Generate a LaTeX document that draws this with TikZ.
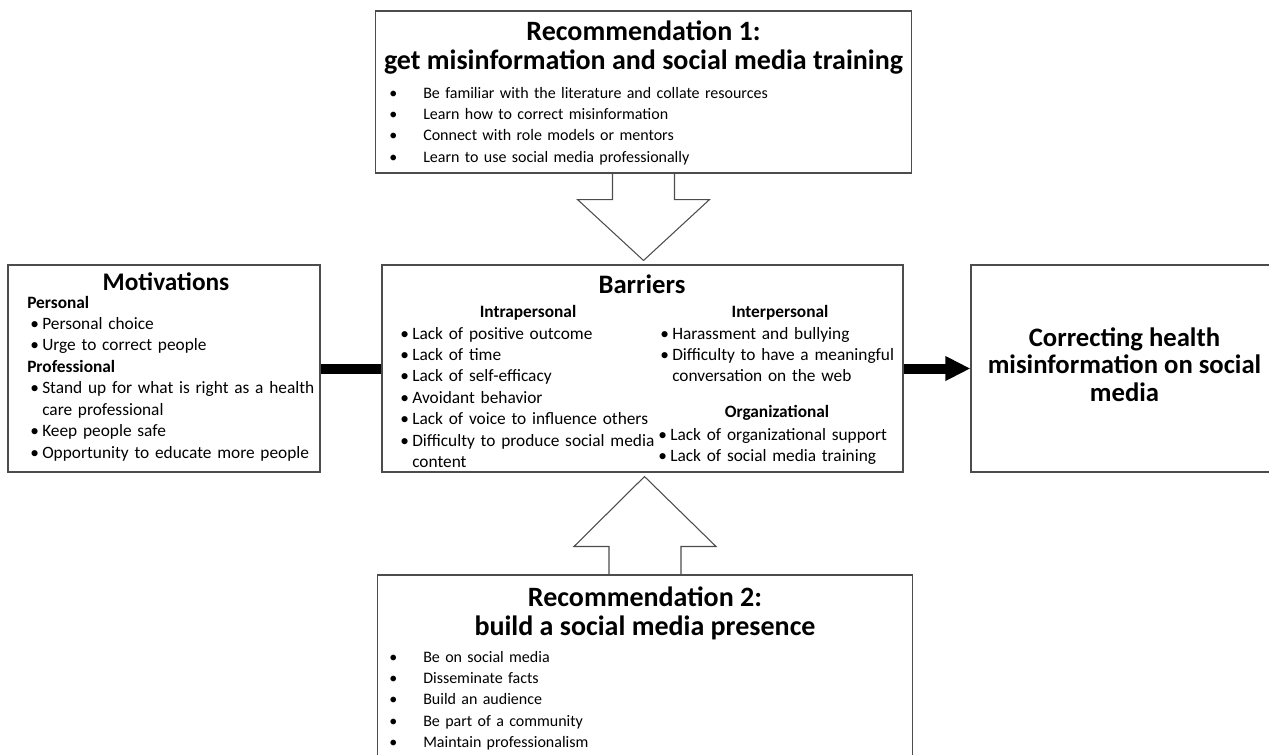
\documentclass[tikz,border=0pt]{standalone}
\usepackage{fontspec}
\setmainfont{Carlito}
\usetikzlibrary{arrows.meta,positioning,calc}
\newcommand{\bitem}[1]{\noindent\makebox[11.25pt][c]{\textbullet}#1\par}
\newcommand{\bcont}[1]{\noindent\hspace*{11.25pt}#1\par}
\newcommand{\ritem}[1]{\noindent\makebox[25.5pt][l]{\textbullet}#1\par}

\begin{document}
\begin{tikzpicture}[x=0.75pt,y=-0.75pt,
  box/.style={draw=black!70,line width=0.8pt,rectangle,minimum height=155.25pt},
  txt/.style={inner sep=0pt,anchor=base west,font=\fontsize{13}{16.1}\selectfont},
  head/.style={inner sep=0pt,anchor=base,font=\fontsize{13}{16.1}\selectfont\bfseries},
  rtitle/.style={inner sep=0pt,anchor=base,text width=450pt,align=flush center,font=\fontsize{21}{22.1}\selectfont\bfseries},
  rlist/.style={inner sep=0pt,anchor=base west,text width=360pt,font=\fontsize{12}{16}\selectfont},
  hollow/.style={draw=black!70,line width=0.8pt,line join=miter},
  boldline/.style={line width=7.5pt}]
\useasboundingbox (0,0) rectangle (1269,754);

\node[box,minimum width=401.6pt,minimum height=121.5pt] (rec1) at (643.5,92) {};
\node[box,minimum width=390.75pt] (barriers) at (642.5,368.5) {};
\node[box,minimum width=234pt] (motiv) at (164,368.5) {};
\node[box,minimum width=230.25pt] (goal) at (1124.5,368.5) {};
\node[box,minimum width=401.25pt,minimum height=168.75pt] (rec2) at (645,687.5) {};

\node[rtitle] (rec1title) at (643.5,40) {Recommendation 1:\\get misinformation and social media training};
\node[rlist] (rec1list) at (389,98) {\ritem{Be familiar with the literature and collate resources}\ritem{Learn how to correct misinformation}\ritem{Connect with role models or mentors}\ritem{Learn to use social media professionally}};

\node[head,font=\fontsize{19}{22}\selectfont\bfseries] (motivtitle) at (166,290) {Motivations};
\node[txt,text width=225pt] (motivlist) at (27,308) {\noindent\textbf{Personal}\par\bitem{Personal choice}\bitem{Urge to correct people}\noindent\textbf{Professional}\par\bitem{Stand up for what is right as a health}\bcont{care professional}\bitem{Keep people safe}\bitem{Opportunity to educate more people}};

\node[head,font=\fontsize{20}{24}\selectfont\bfseries] (barrierstitle) at (642,293) {Barriers};
\node[head] (intrahead) at (528,317) {Intrapersonal};
\node[head] (interhead) at (780,317) {Interpersonal};
\node[head] (orghead) at (777,417) {Organizational};
\node[txt,text width=200pt] (intralist) at (397,339) {\bitem{Lack of positive outcome}\bitem{Lack of time}\bitem{Lack of self-efficacy}\bitem{Avoidant behavior}\bitem{Lack of voice to influence others}\bitem{Difficulty to produce social media}\bcont{content}};
\node[txt,text width=180pt] (interlist) at (657,339) {\bitem{Harassment and bullying}\bitem{Difficulty to have a meaningful}\bcont{conversation on the web}};
\node[txt,text width=180pt] (orglist) at (655,440) {\bitem{Lack of organizational support}\bitem{Lack of social media training}};

\node[align=flush center,font=\fontsize{20}{20.6}\selectfont\bfseries,yshift=3pt] (goaltext) at (goal.center) {Correcting health\\misinformation on social\\media};

\node[rtitle] (rec2title) at (645,606) {Recommendation 2:\\build a social media presence};
\node[rlist] (rec2list) at (389,662) {\ritem{Be on social media}\ritem{Disseminate facts}\ritem{Build an audience}\ritem{Be part of a community}\ritem{Maintain professionalism}};

\draw[boldline] (motiv.east) -- (barriers.west);
\draw[boldline,-{Triangle[length=18.75pt,width=17.25pt]}] (barriers.east) -- (goal.west);

\coordinate (t1) at ($(rec1.south)+(0,26)$);
\draw[hollow] ($(rec1.south)+(-31,0)$) |- ($(t1)+(-66,0)$) -- ($(barriers.north)+(1,-4)$) -- ($(t1)+(66,0)$) -| ($(rec1.south)+(31,0)$);
\coordinate (b1) at ($(rec2.north)+(0,-28)$);
\draw[hollow] ($(rec2.north)+(-36,0)$) |- ($(b1)+(-71,0)$) -- ($(barriers.south)+(2,4)$) -- ($(b1)+(71,0)$) -| ($(rec2.north)+(36,0)$);
\end{tikzpicture}
\end{document}
